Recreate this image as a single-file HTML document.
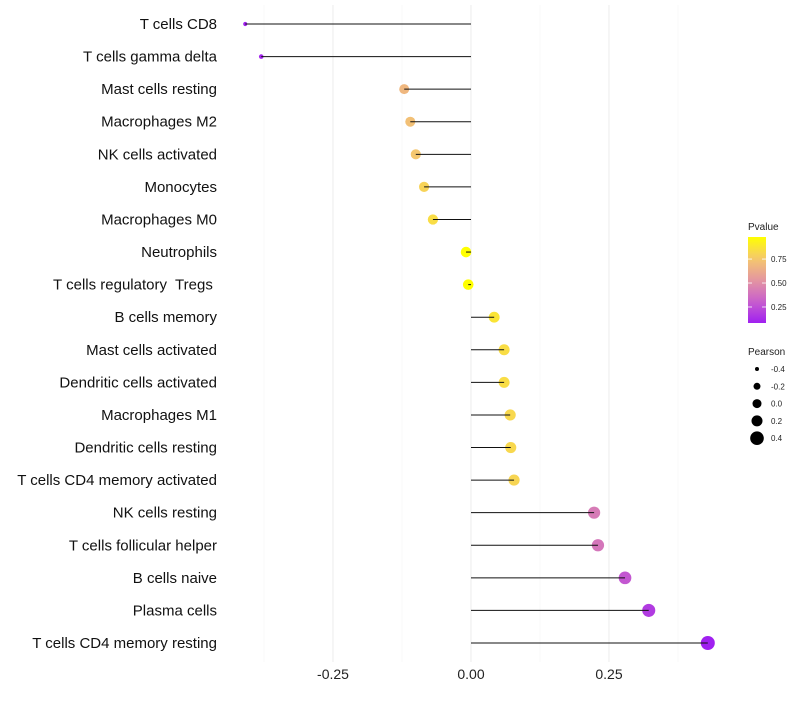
<!DOCTYPE html>
<html><head><meta charset="utf-8"><style>
body{margin:0;background:#fff;font-family:"Liberation Sans",sans-serif}
text{white-space:pre}
</style></head><body>
<svg id="c" width="800" height="700" xmlns="http://www.w3.org/2000/svg" xml:space="preserve"></svg>
<script>
const categories=["T cells CD8","T cells gamma delta","Mast cells resting","Macrophages M2","NK cells activated","Monocytes","Macrophages M0","Neutrophils","T cells regulatory  Tregs ","B cells memory","Mast cells activated","Dendritic cells activated","Macrophages M1","Dendritic cells resting","T cells CD4 memory activated","NK cells resting","T cells follicular helper","B cells naive","Plasma cells","T cells CD4 memory resting"];
const pearson=[-0.409,-0.380,-0.121,-0.110,-0.100,-0.085,-0.069,-0.009,-0.005,0.042,0.060,0.060,0.071,0.072,0.078,0.223,0.230,0.279,0.322,0.429];
const pvalues=[0.09,0.10,0.68,0.72,0.75,0.80,0.84,0.98,0.98,0.87,0.84,0.84,0.82,0.82,0.81,0.42,0.40,0.28,0.18,0.08];
const xTicks=[-0.25,0,0.25];
const xTickLabels=["-0.25","0.00","0.25"];
const sizeLegend=[-0.4,-0.2,0.0,0.2,0.4];
const colorLegend=[0.25,0.5,0.75];
const NS="http://www.w3.org/2000/svg";
const svg=document.getElementById('c');
const X=v=>471+v*552;
const Y=i=>24+i*(643-24)/19;
function R(v){const k=[[-0.42,2],[-0.2,3.6],[-0.12,5],[0,5.3],[0.2,6],[0.43,7]];
 for(let j=0;j<k.length-1;j++){if(v<=k[j+1][0]){const u=(v-k[j][0])/(k[j+1][0]-k[j][0]);return Math.max(1.8,k[j][1]+u*(k[j+1][1]-k[j][1]));}}return 7;}
const pmin=0.083,pmax=0.98;
function col(p){let t=Math.max(0,Math.min(1,(p-pmin)/(pmax-pmin)));
 const s=[[160,32,240],[200,95,205],[228,150,160],[245,200,110],[255,255,0]];
 let f=t*4,k=Math.min(3,Math.floor(f)),u=f-k;
 const c=s[k].map((a,j)=>Math.round(a+(s[k+1][j]-a)*u));return `rgb(${c})`;}
function el(t,a,txt){const e=document.createElementNS(NS,t);for(const k in a)e.setAttribute(k,a[k]);if(txt!=null)e.textContent=txt;svg.appendChild(e);return e;}
[-0.375,-0.125,0.125,0.375].forEach(v=>{const g=el('line',{x1:X(v),x2:X(v),y1:5,y2:662,stroke:'#f5f5f5','stroke-width':0.6});

});
xTicks.forEach((v,i)=>{const g=el('line',{x1:X(v),x2:X(v),y1:5,y2:662,stroke:'#ededed','stroke-width':1.1});


const t=el('text',{x:X(v),y:679,'text-anchor':'middle','font-size':14,fill:'#222'},xTickLabels[i]);

});
categories.forEach((c,i)=>{const y=Y(i);
 const t=el('text',{x:217,y:y+5,'text-anchor':'end','font-size':15,fill:'#111'},c);
 
 
 const p=el('circle',{cx:X(pearson[i]),cy:y,r:R(pearson[i]),fill:col(pvalues[i])});
 
 
 const l=el('line',{x1:X(0),x2:X(pearson[i]),y1:y,y2:y,stroke:'#111','stroke-width':1});
 
 
});
let lt=el('text',{x:748,y:230,'font-size':10,fill:'#222'},'Pvalue');


const defs=el('defs',{});
const lg=document.createElementNS(NS,'linearGradient');lg.setAttribute('id','g');lg.setAttribute('x1','0');lg.setAttribute('y1','1');lg.setAttribute('x2','0');lg.setAttribute('y2','0');defs.appendChild(lg);
for(let k=0;k<=10;k++){const s=document.createElementNS(NS,'stop');s.setAttribute('offset',k/10);s.setAttribute('stop-color',col(pmin+(pmax-pmin)*k/10));lg.appendChild(s);}
const cb=el('rect',{x:748,y:237,width:18,height:86,fill:'url(#g)'});


const CY=p=>323-(p-pmin)/(pmax-pmin)*86;
colorLegend.forEach(p=>{el('line',{x1:748,x2:752,y1:CY(p),y2:CY(p),stroke:'#fff','stroke-width':0.8});el('line',{x1:762,x2:766,y1:CY(p),y2:CY(p),stroke:'#fff','stroke-width':0.8});
 const t=el('text',{x:771,y:CY(p)+3,'font-size':8,fill:'#222'},p.toFixed(2));
 
 });
lt=el('text',{x:748,y:355,'font-size':10,fill:'#222'},'Pearson');


const legR=[2,3.5,4.5,5.5,6.8];
sizeLegend.forEach((v,i)=>{const y=369+i*17.3;
 const c=el('circle',{cx:757,cy:y,r:legR[i],fill:'#000'});
 
 
 const t=el('text',{x:771,y:y+3,'font-size':8,fill:'#222'},v.toFixed(1));
 
 });
</script>
</body></html>
